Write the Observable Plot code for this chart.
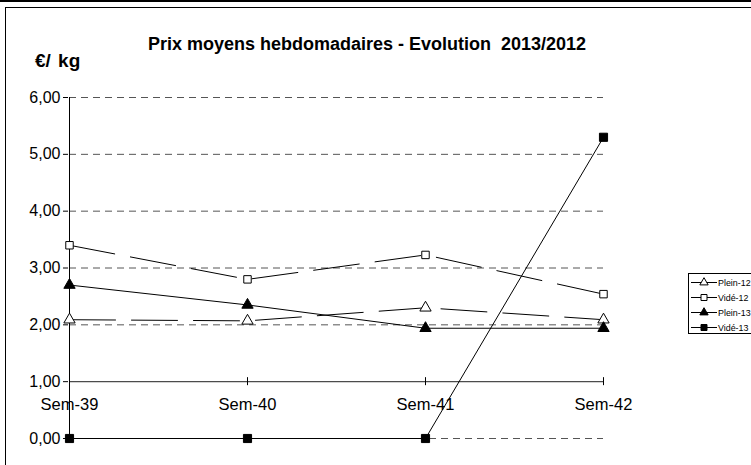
<!DOCTYPE html>
<html>
<head>
<meta charset="utf-8">
<script src="https://cdn.jsdelivr.net/npm/d3@7"></script>
<script src="https://cdn.jsdelivr.net/npm/@observablehq/plot@0.6"></script>
<style>
  html, body { margin: 0; padding: 0; background: #fff; }
  #wrap { position: relative; width: 751px; height: 465px; overflow: hidden; font-family: Arial, "Liberation Sans", sans-serif; }
  #wrap > svg.plotsvg { position: absolute; left: 0; top: 0; }
  .topline { position: absolute; left: 0; top: 0; width: 751px; height: 2px; background: #000; }
  .box { position: absolute; left: 5px; top: 7px; width: 760px; height: 470px; border-left: 1px solid #000; border-top: 1px solid #000; }
  .title { position: absolute; left: 0; width: 734px; top: 34px; text-align: center; font-weight: bold; font-size: 18px; white-space: pre; }
  .unit { position: absolute; left: 35px; top: 50px; font-weight: bold; font-size: 19px; word-spacing: 2px; }
  #legend { position: absolute; left: 688px; top: 273px; }
</style>
</head>
<body>
<div id="wrap">
  <div class="topline"></div>
  <div class="box"></div>
  <div class="title">Prix moyens hebdomadaires - Evolution  2013/2012</div>
  <div class="unit">€/ kg</div>
</div>
<script>
const weeks = ["Sem-39", "Sem-40", "Sem-41", "Sem-42"];
const plein12 = [2.09, 2.07, 2.30, 2.09];
const vide12  = [3.40, 2.80, 3.23, 2.54];
const plein13 = [2.70, 2.35, 1.94, 1.94];
const vide13  = [0.00, 0.00, 0.00, 5.30];
const seriesNames = ["Plein-12", "Vidé-12", "Plein-13", "Vidé-13"];
const yTicks = [0, 1, 2, 3, 4, 5, 6];
const gridValues = [0, 2, 3, 4, 5, 6];
const axisAt = 1;

const styles = {
  "Plein-12": {symbol: "triangle", fill: "#fff", dash: "46,16", r: 4.2},
  "Vidé-12":  {symbol: "square",   fill: "#fff", dash: "46,16", r: 4.2},
  "Plein-13": {symbol: "triangle", fill: "#000", dash: null, r: 4.2},
  "Vidé-13":  {symbol: "square",   fill: "#000", dash: null, r: 4.6}
};
const valuesBySeries = {"Plein-12": plein12, "Vidé-12": vide12, "Plein-13": plein13, "Vidé-13": vide13};
const table = seriesNames.map(name => weeks.map((w, i) => ({series: name, week: w, value: valuesBySeries[name][i]})));

const fmt = d => d.toFixed(2).replace(".", ",");
const first = () => weeks[0];
const last = () => weeks[weeks.length - 1];

const marks = [];
// gridlines
marks.push(Plot.ruleY(gridValues, {x1: first, x2: last, stroke: "#555", strokeWidth: 1, strokeDasharray: "7,5"}));
// x axis line at 1
marks.push(Plot.ruleY([axisAt], {x1: first, x2: last, stroke: "#000", strokeOpacity: 0.7, strokeWidth: 1.2}));
marks.push(Plot.ruleX(weeks, {x: d => d, y1: axisAt, y2: axisAt, insetTop: -4, insetBottom: -4, stroke: "#000", strokeWidth: 1}));
marks.push(Plot.text(weeks, {x: d => d, y: axisAt, dy: 23, text: d => d, fontSize: 16.5, fill: "#000"}));
// y axis
marks.push(Plot.ruleX([weeks[0]], {y1: 0, y2: 6, stroke: "#000", strokeWidth: 1}));
marks.push(Plot.axisY(yTicks, {tickSize: 5, tickPadding: 3, tickFormat: fmt, fontSize: 16, color: "#000", label: null}));
// series
table.forEach(rows => {
  const s = styles[rows[0].series];
  marks.push(Plot.line(rows, {x: "week", y: "value", stroke: "#000", strokeWidth: 1, strokeDasharray: s.dash, curve: "linear"}));
});
table.forEach(rows => {
  const s = styles[rows[0].series];
  marks.push(Plot.dot(rows, {x: "week", y: "value", symbol: () => s.symbol, r: s.r, fill: s.fill, stroke: "#000", strokeWidth: 1}));
});

const chart = Plot.plot({
  width: 751,
  height: 465,
  marginLeft: 68,
  marginRight: 147,
  marginTop: 97,
  marginBottom: 27,
  style: {fontFamily: "Arial, 'Liberation Sans', sans-serif", fontSize: "16px", background: "transparent", overflow: "visible"},
  x: {type: "point", domain: weeks, padding: 0, axis: null},
  y: {domain: [0, 6], axis: null, label: null},
  symbol: {type: "identity"},
  marks
});
chart.classList.add("plotsvg");
document.getElementById("wrap").appendChild(chart);

// legend (hand-drawn with d3)
const lg = d3.select("#wrap").append("svg").attr("id", "legend").attr("width", 63).attr("height", 62);
lg.append("rect").attr("x", 0.5).attr("y", 0.5).attr("width", 80).attr("height", 60).attr("fill", "#fff").attr("stroke", "#000");
seriesNames.forEach((name, i) => {
  const s = styles[name];
  const y = 9.5 + i * 15;
  lg.append("line").attr("x1", 3).attr("x2", 29).attr("y1", y).attr("y2", y).attr("stroke", "#000");
  const sym = s.symbol === "triangle" ? d3.symbolTriangle : d3.symbolSquare;
  lg.append("path").attr("d", d3.symbol(sym, s.symbol === "triangle" ? 30 : 36)()).attr("transform", `translate(16,${y})`).attr("fill", s.fill).attr("stroke", "#000");
  lg.append("text").attr("x", 30).attr("y", y).attr("dy", "0.35em").attr("font-size", 8.9).attr("font-family", "Arial, 'Liberation Sans', sans-serif").text(name);
});
</script>
</body>
</html>
